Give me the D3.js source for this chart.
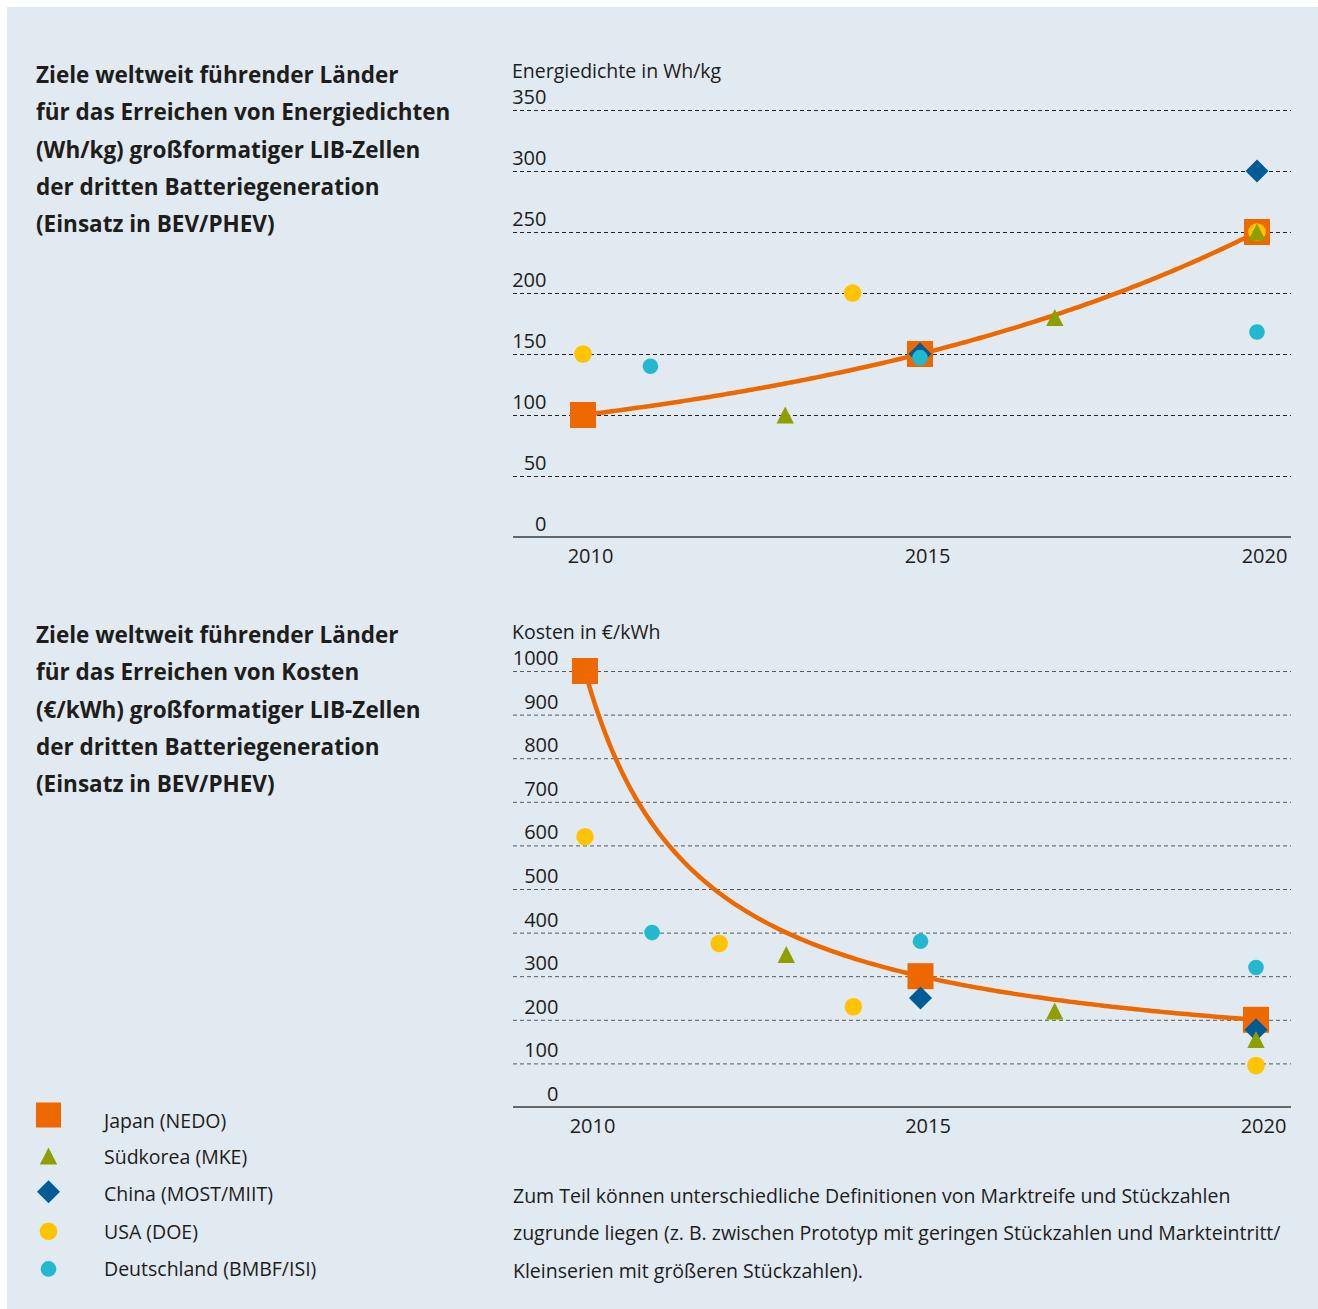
<!DOCTYPE html>
<html>
<head>
<meta charset="utf-8">
<script src="https://cdn.jsdelivr.net/npm/d3@7"></script>
<style>
  body { margin: 0; background: #fff; }
  svg text { font-family: 'Open Sans', 'Noto Sans', sans-serif; fill: #1d1d1b; }
</style>
</head>
<body>
<div id="chart"></div>
<script>
// ---- data ----
var seriesNames = ["Japan (NEDO)", "Südkorea (MKE)", "China (MOST/MIIT)", "USA (DOE)", "Deutschland (BMBF/ISI)"];
var seriesColors = ["#ee6800", "#8ea000", "#005b96", "#ffc300", "#22b8cd"];
var seriesShapes = ["square", "triangle", "diamond", "circle", "circleSmall"];

var yearTicks = [2010, 2015, 2020];

// Energiedichte in Wh/kg
var energyTicks = [0, 50, 100, 150, 200, 250, 300, 350];
var energyJapanYears = [2010, 2015, 2020];
var energyJapan = [100, 150, 250];
var energyKoreaYears = [2013, 2017, 2020];
var energyKorea = [100, 180, 250];
var energyChinaYears = [2015, 2020];
var energyChina = [150, 300];
var energyUsaYears = [2010, 2014, 2020];
var energyUsa = [150, 200, 250];
var energyGermanyYears = [2011, 2015, 2020];
var energyGermany = [140, 147, 168];

// Kosten in €/kWh
var costTicks = [0, 100, 200, 300, 400, 500, 600, 700, 800, 900, 1000];
var costJapanYears = [2010, 2015, 2020];
var costJapan = [1000, 300, 200];
var costKoreaYears = [2013, 2017, 2020];
var costKorea = [350, 220, 155];
var costChinaYears = [2015, 2020];
var costChina = [250, 177];
var costUsaYears = [2010, 2012, 2014, 2020];
var costUsa = [620, 375, 230, 95];
var costGermanyYears = [2011, 2015, 2020];
var costGermany = [400, 380, 320];

var titleEnergy = ["Ziele weltweit führender Länder", "für das Erreichen von Energiedichten",
  "(Wh/kg) großformatiger LIB-Zellen", "der dritten Batteriegeneration", "(Einsatz in BEV/PHEV)"];
var titleCost = ["Ziele weltweit führender Länder", "für das Erreichen von Kosten",
  "(€/kWh) großformatiger LIB-Zellen", "der dritten Batteriegeneration", "(Einsatz in BEV/PHEV)"];
var footnote = ["Zum Teil können unterschiedliche Definitionen von Marktreife und Stückzahlen",
  "zugrunde liegen (z. B. zwischen Prototyp mit geringen Stückzahlen und Markteintritt/",
  "Kleinserien mit größeren Stückzahlen)."];

// ---- page ----
var W = 1318, H = 1309;
var svg = d3.select("#chart").append("svg")
  .attr("width", W)
  .attr("height", H);

svg.append("rect")
  .attr("x", 7).attr("y", 7)
  .attr("width", W - 7).attr("height", H - 7)
  .attr("fill", "#e1e9f1");

// marker drawing, shape by name
function marker(sel, shape, color) {
  if (shape == "square") {
    sel.append("rect").attr("x", -13).attr("y", -13).attr("width", 26).attr("height", 26).attr("fill", color);
  } else if (shape == "triangle") {
    sel.append("path").attr("d", "M0,-8.5L8.7,8.5L-8.7,8.5Z").attr("fill", color);
  } else if (shape == "diamond") {
    sel.append("path").attr("d", "M0,-11.5L11.5,0L0,11.5L-11.5,0Z").attr("fill", color);
  } else if (shape == "circle") {
    sel.append("circle").attr("r", 8.8).attr("fill", color);
  } else {
    sel.append("circle").attr("r", 7.8).attr("fill", color);
  }
}

function textBlock(lines, x, y0, step, size, weight) {
  svg.append("g").selectAll("text")
    .data(lines)
    .enter().append("text")
    .attr("x", x)
    .attr("y", function(d, i) { return y0 + i * step; })
    .style("font-size", size + "px")
    .style("font-weight", weight)
    .text(function(d) { return d; });
}

// trend forms fitted through the three NEDO targets (equally spaced years)
function expTrend(xs, vs) {
  var h = xs[1] - xs[0], q = (vs[2] - vs[1]) / (vs[1] - vs[0]);
  var b = (vs[1] - vs[0]) / (q - 1), a = vs[0] - b;
  return function(t) { return a + b * Math.pow(q, (t - xs[0]) / h); };
}
function hypTrend(xs, vs) {
  var h = xs[1] - xs[0], R = (vs[0] - vs[1]) / (vs[1] - vs[2]);
  var c = 2 * h / (R - 1);
  var b = (vs[0] - vs[1]) * c * (h + c) / h, a = vs[0] - b / c;
  return function(t) { return a + b / (t - xs[0] + c); };
}

function drawPanel(cfg) {
  var x = d3.scaleLinear().domain([2010, 2020]).range(cfg.xRange),
      y = d3.scaleLinear().domain([0, cfg.yMax]).range(cfg.yRange);

  // grid + y labels
  var gy = svg.append("g")
    .attr("transform", "translate(" + cfg.gridLeft + ",0)")
    .call(d3.axisLeft(y).tickValues(cfg.ticks).tickSize(-(cfg.gridRight - cfg.gridLeft)).tickFormat(d3.format("d")));
  gy.select(".domain").remove();
  gy.selectAll(".tick line")
    .attr("stroke", cfg.gridColor)
    .attr("stroke-dasharray", "4,3")
    .filter(function(d) { return d === 0; }).remove();
  gy.selectAll(".tick text")
    .attr("x", cfg.labelRight - cfg.gridLeft)
    .attr("y", -6.5)
    .attr("dy", null)
    .attr("text-anchor", "end")
    .style("font-size", "20px")
    .style("font-family", null);

  // x axis
  var gx = svg.append("g")
    .attr("transform", "translate(0," + y(0) + ")")
    .call(d3.axisBottom(x).tickValues(yearTicks).tickSize(0).tickFormat(d3.format("d")));
  gx.select(".domain").remove();
  gx.selectAll(".tick text")
    .attr("x", 7)
    .attr("y", 25.5)
    .attr("dy", null)
    .style("font-size", "20px")
    .style("font-family", null);
  svg.append("line")
    .attr("x1", cfg.gridLeft).attr("x2", cfg.gridRight)
    .attr("y1", y(0)).attr("y2", y(0))
    .attr("stroke", "#3a3a3a")
    .attr("stroke-width", 1.5);

  svg.append("text")
    .attr("x", cfg.gridLeft - 1)
    .attr("y", cfg.titleY)
    .style("font-size", "19.5px")
    .text(cfg.axisTitle);

  var s = cfg.series;
  // Japan squares, then trend curve
  var layer = svg.append("g");
  function plot(idx) {
    var yrs = s[idx][0], vals = s[idx][1];
    layer.selectAll(null)
      .data(yrs.map(function(yr, i) { return [yr, vals[i]]; }))
      .enter().append("g")
      .attr("transform", function(d) { return "translate(" + x(d[0]) + "," + y(d[1]) + ")"; })
      .each(function() { marker(d3.select(this), seriesShapes[idx], seriesColors[idx]); });
  }
  plot(0);
  var f = cfg.trend(s[0][0], s[0][1]);
  layer.append("path")
    .datum(d3.range(2010, 2020.001, 0.05))
    .attr("fill", "none")
    .attr("stroke", seriesColors[0])
    .attr("stroke-width", 4.5)
    .attr("d", d3.line().x(function(t) { return x(t); }).y(function(t) { return y(f(t)); }));
  // drawing order as in the original: USA, China, Südkorea, Deutschland
  [3, 2, 1, 4].forEach(plot);
}

drawPanel({
  xRange: [583, 1257], yRange: [537, 110], yMax: 350, ticks: energyTicks,
  gridLeft: 513, gridRight: 1291, labelRight: 546.5, gridColor: "#222",
  titleY: 78, axisTitle: "Energiedichte in Wh/kg", trend: expTrend,
  series: [[energyJapanYears, energyJapan], [energyKoreaYears, energyKorea], [energyChinaYears, energyChina],
           [energyUsaYears, energyUsa], [energyGermanyYears, energyGermany]]
});

drawPanel({
  xRange: [585, 1256], yRange: [1107, 671], yMax: 1000, ticks: costTicks,
  gridLeft: 513, gridRight: 1291, labelRight: 558.5, gridColor: "#555a60",
  titleY: 639, axisTitle: "Kosten in €/kWh", trend: hypTrend,
  series: [[costJapanYears, costJapan], [costKoreaYears, costKorea], [costChinaYears, costChina],
           [costUsaYears, costUsa], [costGermanyYears, costGermany]]
});

textBlock(titleEnergy, 36, 83, 37.3, 22.5, 700);
textBlock(titleCost, 36, 643, 37.3, 22.5, 700);
textBlock(footnote, 513, 1203, 37.3, 19.5, 400);

// legend
var legend = svg.append("g").selectAll("g")
  .data(seriesNames)
  .enter().append("g")
  .attr("transform", function(d, i) { return "translate(48.5," + (1115 + i * 37.6) + ")"; });
legend.each(function(d, i) {
  var g = d3.select(this);
  if (i == 0) g.append("rect").attr("x", -12.5).attr("y", -12.5).attr("width", 25).attr("height", 25).attr("fill", seriesColors[0]);
  else marker(g.append("g").attr("transform", "translate(0," + (i == 2 ? 1.5 : 3.5) + ")"), seriesShapes[i], seriesColors[i]);
});
legend.append("text")
  .attr("x", 55.5)
  .attr("y", function(d, i) { return i == 0 ? 12.5 : 11; })
  .style("font-size", "19.5px")
  .text(function(d) { return d; });
</script>
</body>
</html>
